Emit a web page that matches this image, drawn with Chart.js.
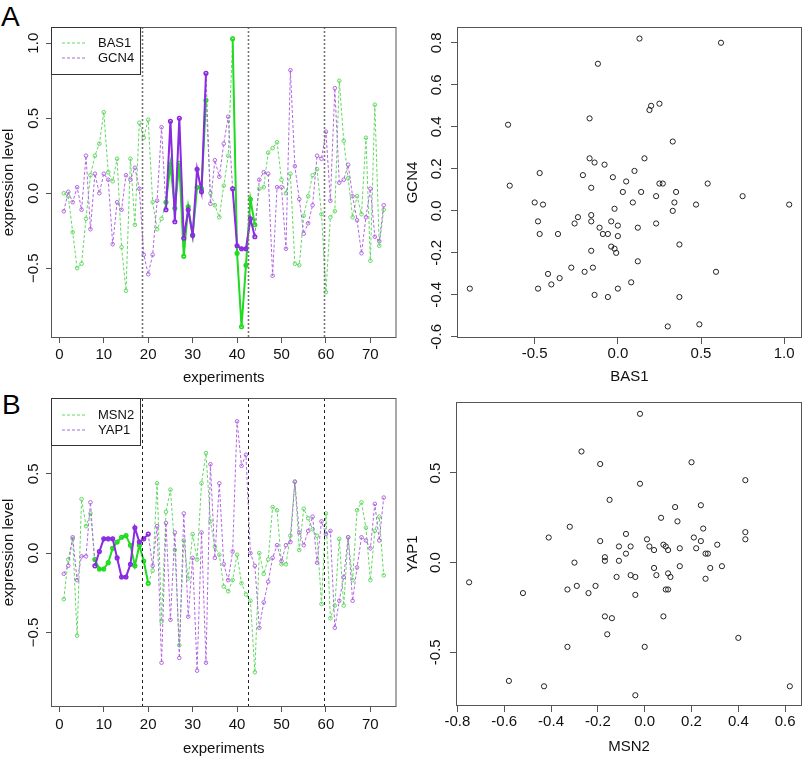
<!DOCTYPE html>
<html>
<head>
<meta charset="utf-8">
<script src="https://cdn.jsdelivr.net/npm/chart.js@4.4.1/dist/chart.umd.min.js"></script>
<style>
  body { margin: 0; background: #fff; }
  #wrap { position: relative; width: 807px; height: 757px; overflow: hidden; }
  canvas { position: absolute; }
  .tag { position: absolute; font: 28px/28px "Liberation Sans", Arial, sans-serif; color: #000; }
</style>
</head>
<body>
<div id="wrap">
  <div class="tag" style="left:1px;top:3px">A</div>
  <div class="tag" style="left:2px;top:391px">B</div>
  <canvas id="lineA" width="402" height="392" style="left:0;top:0"></canvas>
  <canvas id="scatA" width="405" height="392" style="left:402px;top:0"></canvas>
  <canvas id="lineB" width="402" height="365" style="left:0;top:392px"></canvas>
  <canvas id="scatB" width="405" height="365" style="left:402px;top:392px"></canvas>
</div>
<script>
// experiment index (x of the line plots)
const experiments = Array.from({ length: 73 }, (_, i) => i + 1);

// panel A, expression per experiment
const bas1 = [0.00, -0.02, -0.26, -0.50, -0.47, -0.17, 0.12, 0.25, 0.33, 0.54,
  0.14, 0.08, 0.23, -0.36, -0.65, 0.23, -0.21, 0.47, 0.37, 0.49,
  -0.06, -0.24, -0.17, -0.06, 0.19, -0.10, 0.20, -0.42, -0.09, -0.28,
  0.04, 0.03, 0.62, 0.00, -0.08, -0.16, 0.05, 0.25, 1.03, -0.40,
  -0.89, -0.48, -0.04, -0.21, 0.03, 0.04, 0.27, 0.30, 0.34, 0.09,
  0.00, 0.13, -0.47, -0.48, -0.15, -0.02, 0.12, 0.16, -0.14, -0.66,
  -0.16, -0.12, 0.75, 0.35, 0.10, -0.16, -0.02, -0.14, 0.37, -0.45,
  0.59, -0.35, -0.11];
const gcn4 = [-0.12, 0.01, -0.06, 0.04, -0.11, 0.25, -0.24, 0.13, 0.00, 0.13,
  0.09, -0.34, -0.06, -0.11, 0.12, 0.09, 0.17, 0.03, -0.41, -0.54,
  -0.41, -0.05, 0.44, -0.11, 0.48, -0.19, 0.50, -0.30, -0.11, -0.28,
  0.16, 0.01, 0.80, -0.07, 0.22, 0.11, 0.33, 0.51, 0.03, -0.35,
  -0.37, -0.37, -0.17, -0.29, 0.09, 0.14, 0.13, -0.55, 0.04, 0.04,
  -0.37, 0.82, 0.18, -0.04, -0.27, -0.20, -0.08, 0.25, 0.23, 0.41,
  -0.05, 0.70, 0.07, 0.09, 0.19, -0.02, -0.18, -0.40, -0.16, 0.03,
  -0.29, -0.32, -0.08];

// panel B, expression per experiment
const msn2 = [-0.29, -0.04, 0.09, -0.52, 0.34, 0.17, 0.25, -0.04, -0.10, -0.10,
  -0.06, 0.03, 0.07, 0.10, 0.11, 0.05, -0.08, 0.05, -0.05, -0.19,
  -0.11, 0.44, -0.43, 0.26, 0.40, 0.02, -0.58, 0.08, -0.16, 0.12,
  -0.04, 0.44, 0.63, 0.20, 0.04, -0.01, -0.21, -0.24, -0.17, -0.01,
  -0.19, -0.26, -0.30, -0.75, 0.00, -0.13, -0.04, 0.29, 0.27, -0.07,
  -0.07, 0.11, 0.45, 0.02, 0.28, 0.22, 0.15, 0.11, -0.32, 0.25,
  -0.41, -0.33, 0.09, -0.33, 0.10, -0.17, 0.27, 0.32, 0.16, -0.17,
  0.14, 0.23, -0.14];
const yap1 = [-0.13, -0.08, 0.10, -0.17, -0.02, -0.02, 0.32, -0.08, 0.01, 0.09,
  0.09, 0.09, -0.03, -0.15, -0.15, -0.07, 0.16, 0.07, 0.09, 0.12,
  -0.08, 0.17, -0.69, 0.19, -0.42, 0.13, -0.66, 0.25, -0.40, -0.03,
  -0.74, 0.13, -0.69, 0.56, -0.03, 0.44, -0.07, -0.17, 0.01, 0.83,
  0.55, 0.62, 0.00, -0.08, -0.47, -0.31, -0.18, -0.03, 0.05, -0.05,
  0.05, 0.07, 0.45, 0.13, 0.05, 0.14, 0.23, -0.06, 0.20, 0.12,
  0.14, -0.47, -0.30, -0.15, 0.10, -0.30, -0.09, 0.10, 0.08, 0.03,
  0.31, 0.08, 0.35];

// highlighted experiment runs and condition boundaries
const highlightA = [[24, 33], [39, 44]];
const highlightB = [[8, 20]];
const boundaries = [18.5, 42.5, 59.5];

// scatter panels (pairs)
const scatterBas1 = [0.13, 0.62, -0.12, 0.20, 0.19, 0.25, -0.17, -0.66, 0.33, -0.17,
  0.16, -0.14, -0.08, -0.47, -0.21, -0.03, 0.10, 0.05, -0.65, 0.25,
  0.27, 0.54, -0.16, 0.03, 0.14, 0.35, 0.23, 0.75, -0.50, 0.09,
  0.34, -0.45, 0.47, 1.03, -0.02, 0.33, -0.16, -0.48, -0.24, -0.26,
  -0.16, -0.04, 0.23, 0.00, -0.11, 0.12, -0.47, -0.36, -0.09, -0.06,
  0.00, 0.37, -0.04, -0.02, -0.16, -0.01, 0.12, -0.28, -0.15, -0.20,
  0.59, -0.42, -0.35, -0.40, 0.08, -0.89, -0.48, 0.00, -0.14, -0.06,
  0.37, 0.49, 0.30];
const scatterGcn4 = [0.82, 0.80, 0.70, 0.50, 0.48, 0.51, 0.44, 0.41, 0.33, 0.25,
  0.25, 0.23, 0.22, 0.18, 0.17, 0.16, 0.19, 0.14, 0.12, 0.13,
  0.13, 0.13, 0.11, 0.09, 0.09, 0.09, 0.07, 0.07, 0.04, 0.04,
  0.04, 0.03, 0.03, 0.03, 0.01, 0.00, -0.02, -0.05, -0.03, -0.06,
  -0.05, -0.05, -0.06, -0.07, -0.08, -0.08, -0.11, -0.11, -0.11, -0.11,
  -0.12, -0.16, -0.17, -0.18, -0.19, -0.20, -0.24, -0.27, -0.27, -0.29,
  -0.29, -0.30, -0.32, -0.35, -0.34, -0.37, -0.37, -0.37, -0.40, -0.41,
  -0.41, -0.54, -0.55];
const scatterMsn2 = [-0.02, -0.27, -0.19, 0.20, 0.43, -0.02, -0.15, 0.13, 0.24, 0.07,
  0.14, -0.32, 0.25, -0.08, 0.43, -0.41, 0.21, 0.01, -0.19, 0.24,
  0.43, 0.08, 0.31, -0.11, -0.06, 0.02, 0.09, 0.04, 0.10, 0.15,
  0.22, -0.08, 0.26, 0.27, -0.17, -0.17, -0.11, -0.30, 0.15, 0.33,
  0.04, 0.28, 0.10, 0.05, -0.06, -0.04, -0.12, 0.11, 0.26, -0.75,
  -0.29, -0.21, -0.33, 0.09, 0.10, -0.52, -0.24, -0.04, -0.17, -0.14,
  0.08, -0.16, 0.40, -0.33, 0.00, -0.58, -0.43, 0.62, -0.04];
const scatterYap1 = [0.83, 0.62, 0.55, 0.56, 0.46, 0.44, 0.35, 0.31, 0.32, 0.25,
  0.23, 0.20, 0.19, 0.16, 0.17, 0.14, 0.14, 0.13, 0.12, 0.12,
  0.13, 0.10, 0.10, 0.09, 0.09, 0.09, 0.09, 0.07, 0.07, 0.08,
  0.08, 0.05, 0.05, 0.05, 0.03, 0.01, 0.01, 0.00, -0.02, -0.02,
  -0.03, -0.03, -0.06, -0.07, -0.07, -0.08, -0.08, -0.08, -0.09, -0.11,
  -0.13, -0.13, -0.15, -0.15, -0.15, -0.17, -0.17, -0.18, -0.30, -0.31,
  -0.30, -0.40, -0.42, -0.47, -0.47, -0.66, -0.69, -0.69, -0.74];

// tick labels
const xTicksLine = [0, 10, 20, 30, 40, 50, 60, 70];
const yTicksLineA = [-0.5, 0, 0.5, 1.0];
const yTicksLineB = [-0.5, 0, 0.5];
const xTicksScatterA = [-0.5, 0, 0.5, 1.0];
const yTicksScatterA = [-0.6, -0.4, -0.2, 0, 0.2, 0.4, 0.6, 0.8];
const xTicksScatterB = [-0.8, -0.6, -0.4, -0.2, 0, 0.2, 0.4, 0.6];
const yTicksScatterB = [-0.5, 0, 0.5];

const GREEN_DASH = "#62d862", GREEN_SOLID = "#1fdc1f";
const PURPLE_DASH = "#b068de", PURPLE_SOLID = "#8a2be2";
const FONT = "'Liberation Sans', Arial, sans-serif";

Chart.defaults.font.family = FONT;
Chart.defaults.color = "#111";

// box round the plot area + condition boundaries
const framePlugin = {
    id: "frame",
    afterDatasetsDraw(chart, args, o) {
        if (!o.refs) return;
        let { ctx, chartArea: a, scales: { x } } = chart;
        ctx.save();
        ctx.strokeStyle = o.refColor;
        ctx.lineWidth = o.refWidth;
        ctx.setLineDash(o.refDash);
        boundaries.forEach(b => {
            let px = Math.round(x.getPixelForValue(b)) + 0.5;
            ctx.beginPath();
            ctx.moveTo(px, a.top);
            ctx.lineTo(px, a.bottom);
            ctx.stroke();
        });
        ctx.restore();
    },
    afterDraw(chart) {
        let { ctx, chartArea: a } = chart;
        ctx.save();
        ctx.strokeStyle = "#555";
        ctx.lineWidth = 1;
        ctx.strokeRect(a.left + 0.5, a.top + 0.5, a.right - a.left - 1, a.bottom - a.top - 1);
        ctx.restore();
    }
};

// R-style legend in the top-left corner
const legendPlugin = {
    id: "rlegend",
    afterDraw(chart, args, o) {
        let { ctx, chartArea: a } = chart;
        let items = chart.data.datasets.filter(d => d.inLegend);
        ctx.save();
        ctx.fillStyle = "#fff";
        ctx.fillRect(a.left, a.top, o.width, o.height);
        ctx.strokeStyle = "#333";
        ctx.lineWidth = 1;
        ctx.strokeRect(a.left + 0.5, a.top + 0.5, o.width, o.height);
        items.forEach((d, k) => {
            let y = a.top + o.firstRow + k * o.rowGap;
            ctx.strokeStyle = d.borderColor;
            ctx.setLineDash(d.borderDash);
            ctx.beginPath();
            ctx.moveTo(a.left + 11, y);
            ctx.lineTo(a.left + 35, y);
            ctx.stroke();
            ctx.setLineDash([]);
            ctx.fillStyle = "#111";
            ctx.font = "13px " + FONT;
            ctx.textBaseline = "middle";
            ctx.fillText(d.label, a.left + 47, y);
        });
        ctx.restore();
    }
};

function inRuns(x, runs) {
    return runs.some(r => x >= r[0] && x <= r[1]);
}

function rMinus(v) {
    return (v < 0 ? "\u2212" : "") + Math.abs(v).toFixed(1);
}

function linePanel(id, p) {
    let datasets = [];
    p.series.forEach((s, k) => {
        datasets.push({
            label: s.label,
            inLegend: true,
            data: experiments.map((x, i) => ({ x, y: s.values[i] })),
            showLine: true,
            borderColor: s.dash,
            borderWidth: 1,
            borderDash: [3, 2],
            pointRadius: 1.8,
            pointBorderWidth: 1,
            pointBorderColor: s.dash,
            pointBackgroundColor: "rgba(0,0,0,0)",
            order: 10 - k
        });
    });
    p.series.forEach((s, k) => {
        datasets.push({
            label: s.label + " (highlighted)",
            data: experiments.map((x, i) => ({ x, y: inRuns(x, p.runs) ? s.values[i] : null })),
            showLine: true,
            spanGaps: false,
            borderColor: s.solid,
            borderWidth: 2,
            pointRadius: 1.8,
            pointBorderWidth: 1.5,
            pointBorderColor: s.solid,
            pointBackgroundColor: "rgba(0,0,0,0)",
            order: 5 - k
        });
    });

    new Chart(document.getElementById(id), {
        type: "scatter",
        data: { datasets },
        plugins: [framePlugin, legendPlugin],
        options: {
            responsive: false,
            animation: false,
            events: [],
            layout: { padding: { top: p.top, right: p.right, left: 0, bottom: 0 } },
            plugins: {
                legend: { display: false },
                tooltip: { enabled: false },
                frame: { refs: true, refColor: p.refColor, refWidth: p.refWidth, refDash: p.refDash },
                rlegend: { width: 89, height: 47, firstRow: p.legendRow, rowGap: 15 }
            },
            scales: {
                x: {
                    type: "linear", min: -1.88, max: 75.88,
                    afterBuildTicks: s => { s.ticks = xTicksLine.map(v => ({ value: v })); },
                    afterFit: s => { s.height = p.xHeight; },
                    grid: { drawOnChartArea: false, tickLength: 5, color: "#555" },
                    border: { display: false },
                    ticks: { font: { size: 15 }, padding: p.xPad, autoSkip: false, maxRotation: 0 },
                    title: { display: true, text: "experiments", font: { size: 15, lineHeight: 1 },
                        padding: { top: 0, bottom: p.xTitlePad } }
                },
                y: {
                    type: "linear", min: p.yMin, max: p.yMax,
                    afterBuildTicks: s => { s.ticks = p.yTicks.map(v => ({ value: v })); },
                    afterFit: s => { s.width = 51; },
                    grid: { drawOnChartArea: false, tickLength: 5, color: "#555" },
                    border: { display: false },
                    ticks: { font: { size: 15 }, padding: -3, autoSkip: false,
                        minRotation: 90, maxRotation: 90, crossAlign: "center", callback: v => rMinus(v) },
                    title: { display: true, text: "expression level", font: { size: 15, lineHeight: 1 },
                        padding: { top: 1.5, bottom: 0 } }
                }
            }
        }
    });
}

function scatterPanel(id, p) {
    new Chart(document.getElementById(id), {
        type: "scatter",
        data: {
            datasets: [{
                label: p.yTitle + " vs " + p.xTitle,
                data: p.xs.map((x, i) => ({ x, y: p.ys[i] })),
                pointRadius: 2.6,
                pointBorderWidth: 1,
                pointBorderColor: "#222",
                pointBackgroundColor: "rgba(0,0,0,0)"
            }]
        },
        plugins: [framePlugin],
        options: {
            responsive: false,
            animation: false,
            events: [],
            layout: { padding: { top: p.top, right: 3, left: 0, bottom: 0 } },
            plugins: { legend: { display: false }, tooltip: { enabled: false }, frame: { refs: false } },
            scales: {
                x: {
                    type: "linear", min: p.xMin, max: p.xMax,
                    afterBuildTicks: s => { s.ticks = p.xTicks.map(v => ({ value: v })); },
                    afterFit: s => { s.height = p.xHeight; },
                    grid: { drawOnChartArea: false, tickLength: 6, color: "#555" },
                    border: { display: false },
                    ticks: { font: { size: 15 }, padding: 1, autoSkip: false, maxRotation: 0, callback: v => v.toFixed(1) },
                    title: { display: true, text: p.xTitle, font: { size: 15, lineHeight: 1.2 },
                        padding: { top: 0, bottom: p.xTitlePad } }
                },
                y: {
                    type: "linear", min: p.yMin, max: p.yMax,
                    afterBuildTicks: s => { s.ticks = p.yTicks.map(v => ({ value: v })); },
                    afterFit: s => { s.width = p.yWidth; },
                    grid: { drawOnChartArea: false, tickLength: 6, color: "#555" },
                    border: { display: false },
                    ticks: { font: { size: 15 }, padding: 1, autoSkip: false,
                        minRotation: 90, maxRotation: 90, crossAlign: "center", callback: v => v.toFixed(1) },
                    title: { display: true, text: p.yTitle, font: { size: 15, lineHeight: 1.2 },
                        padding: { top: 2, bottom: 0 } }
                }
            }
        }
    });
}

linePanel("lineA", {
    series: [
        { label: "BAS1", values: bas1, dash: GREEN_DASH, solid: GREEN_SOLID },
        { label: "GCN4", values: gcn4, dash: PURPLE_DASH, solid: PURPLE_SOLID }
    ],
    runs: highlightA,
    yMin: -0.965, yMax: 1.108, yTicks: yTicksLineA,
    top: 27, right: 4, xHeight: 54, xPad: 3, xTitlePad: 6.5,
    refColor: "#777", refWidth: 1.6, refDash: [2, 2], legendRow: 16
});

linePanel("lineB", {
    series: [
        { label: "MSN2", values: msn2, dash: GREEN_DASH, solid: GREEN_SOLID },
        { label: "YAP1", values: yap1, dash: PURPLE_DASH, solid: PURPLE_SOLID }
    ],
    runs: highlightB,
    yMin: -0.969, yMax: 0.977, yTicks: yTicksLineB,
    top: 4, right: 4, xHeight: 50, xPad: 4, xTitlePad: 1,
    refColor: "#222", refWidth: 1, refDash: [3, 3], legendRow: 17
});

scatterPanel("scatA", {
    xs: scatterBas1, ys: scatterGcn4, xTitle: "BAS1", yTitle: "GCN4",
    xMin: -0.967, xMax: 1.107, yMin: -0.605, yMax: 0.875,
    xTicks: xTicksScatterA, yTicks: yTicksScatterA,
    top: 27, xHeight: 54, yWidth: 55, xTitlePad: 6
});

scatterPanel("scatB", {
    xs: scatterMsn2, ys: scatterYap1, xTitle: "MSN2", yTitle: "YAP1",
    xMin: -0.806, xMax: 0.672, yMin: -0.80, yMax: 0.896,
    xTicks: xTicksScatterB, yTicks: yTicksScatterB,
    top: 3, xHeight: 51, yWidth: 54, xTitlePad: 1
});
</script>
</body>
</html>
